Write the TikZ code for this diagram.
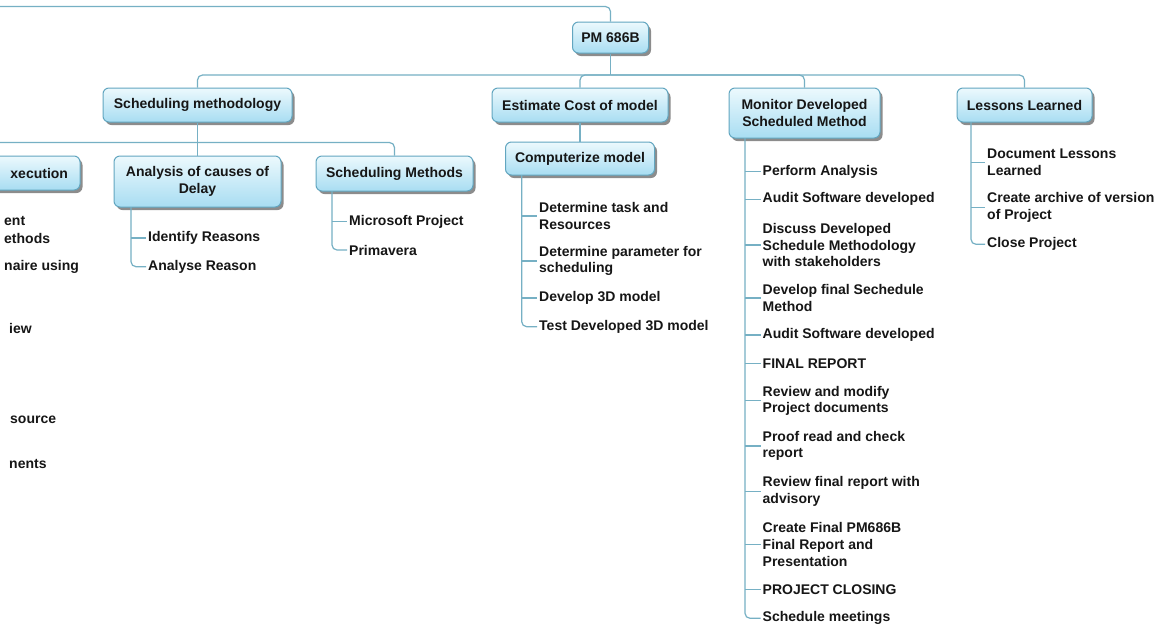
\documentclass[tikz,border=0pt]{standalone}
\usepackage{fontspec}
\setmainfont{Liberation Sans}
\usetikzlibrary{shadows}
\definecolor{boxline}{RGB}{98,166,192}
\definecolor{boxtop}{RGB}{236,249,253}
\definecolor{boxbot}{RGB}{168,221,242}
\definecolor{wire}{RGB}{118,176,196}
\definecolor{ink}{RGB}{22,22,22}
\begin{document}
\begin{tikzpicture}[x=1pt,y=-1pt,
  every node/.style={font=\fontsize{14}{16.6}\selectfont\bfseries, text=ink},
  box/.style={draw=boxline, line width=1pt, rounded corners=6pt,
    top color=boxtop, bottom color=boxbot, align=center, inner sep=0pt,
    drop shadow={shadow xshift=2.5pt, shadow yshift=-3pt, fill=black, opacity=0.45}},
  item/.style={anchor=west, align=left, inner sep=0pt},
  conn/.style={draw=wire, line width=1.2pt},
  elbow/.style={conn, rounded corners=5pt}]

\useasboundingbox (0,0) rectangle (1160,630);
\fill[white] (0,0) rectangle (1160,630);
\clip (0,0) rectangle (1160,630);

% ---------- boxes ----------
\node[box, minimum width=76pt, minimum height=31pt] (pm) at (610.5,37.5) {PM 686B};

\node[box, minimum width=189pt, minimum height=34pt] (sm)  at (197.5,105) {Scheduling methodology};
\node[box, minimum width=176pt, minimum height=34pt] (est) at (580,105) {Estimate Cost of model};
\node[box, minimum width=151pt, minimum height=50pt] (mon) at (804.5,113) {Monitor Developed\\Scheduled Method};
\node[box, minimum width=135pt, minimum height=34pt] (les) at (1024.5,105) {Lessons Learned};

\node[box, minimum width=180pt, minimum height=34pt, text width=156pt, align=right] (exe) at (-10,173) {xecution};
\node[box, minimum width=167pt, minimum height=51pt] (ana) at (197.5,181.5) {Analysis of causes of\\Delay};
\node[box, minimum width=157pt, minimum height=35pt] (smt) at (394.5,173.5) {Scheduling Methods};
\node[box, minimum width=149pt, minimum height=33pt] (comp) at (580,158.5) {Computerize model};

% ---------- connectors between boxes ----------
\coordinate (top) at (0,6.5);
\draw[elbow] (top) -| (pm.north);

\coordinate (bus1) at (610.5,75);
\draw[conn] (pm.south) -- (bus1);
\foreach \c in {sm,est,mon,les} \draw[elbow] (bus1) -| (\c.north);

\coordinate (bus2) at (197.5,142.5);
\draw[conn] (sm.south) -- (bus2);
\foreach \c in {exe,ana,smt} \draw[elbow] (bus2) -| (\c.north);

\draw[conn] (est.south) -- (comp.north);

% ---------- leaf lists ----------
% Analysis of causes of Delay
\node[item] (a1) at (148,238) {Identify Reasons};
\node[item] (a2) at (148,266.7) {Analyse Reason};
\coordinate (arail) at (131,207);
\draw[elbow] (arail) |- ([xshift=-2pt]a2.west);
\draw[conn] (arail |- a1.west) -- ([xshift=-2pt]a1.west);

% Scheduling Methods
\node[item] (s1) at (349,221.7) {Microsoft Project};
\node[item] (s2) at (349,250) {Primavera};
\coordinate (srail) at (332,191);
\draw[elbow] (srail) |- ([xshift=-2pt]s2.west);
\draw[conn] (srail |- s1.west) -- ([xshift=-2pt]s1.west);

% Computerize model
\node[item] (c1) at (539,216) {Determine task and\\Resources};
\node[item] (c2) at (539,261) {Determine parameter for\\scheduling};
\node[item] (c3) at (539,298) {Develop 3D model};
\node[item] (c4) at (539,326.7) {Test Developed 3D model};
\coordinate (crail) at (521.7,175);
\draw[elbow] (crail) |- ([xshift=-2pt]c4.west);
\foreach \i in {c1,c2,c3} \draw[conn] (crail |- \i.west) -- ([xshift=-2pt]\i.west);

% Monitor Developed Scheduled Method
\node[item] (m1)  at (762.5,171.5) {Perform Analysis};
\node[item] (m2)  at (762.5,199.3) {Audit Software developed};
\node[item] (m3)  at (762.5,245)   {Discuss Developed\\Schedule Methodology\\with stakeholders};
\node[item] (m4)  at (762.5,298)   {Develop final Sechedule\\Method};
\node[item] (m5)  at (762.5,335)   {Audit Software developed};
\node[item] (m6)  at (762.5,363.3) {FINAL REPORT};
\node[item] (m7)  at (762.5,400.8) {Review and modify\\Project documents};
\node[item] (m8)  at (762.5,446)   {Proof read and check\\report};
\node[item] (m9)  at (762.5,491.5) {Review final report with\\advisory};
\node[item] (m10) at (762.5,544.5) {Create Final PM686B\\Final Report and\\Presentation};
\node[item] (m11) at (762.5,589.3) {PROJECT CLOSING};
\node[item] (m12) at (762.5,618.3) {Schedule meetings};
\coordinate (mrail) at (745,138);
\draw[elbow] (mrail) |- ([xshift=-2pt]m12.west);
\foreach \i in {m1,m2,m3,m4,m5,m6,m7,m8,m9,m10,m11}
  \draw[conn] (mrail |- \i.west) -- ([xshift=-2pt]\i.west);

% Lessons Learned
\node[item] (l1) at (987,162.5) {Document Lessons\\Learned};
\node[item] (l2) at (987,207.5) {Create archive of version\\of Project};
\node[item] (l3) at (987,244.3) {Close Project};
\coordinate (lrail) at (971,122);
\draw[elbow] (lrail) |- ([xshift=-2pt]l3.west);
\foreach \i in {l1,l2} \draw[conn] (lrail |- \i.west) -- ([xshift=-2pt]\i.west);

% list entries running off the left edge
\node[item] (x1) at (4,220.7) {ent};
\node[item] (x2) at (4,238)   {ethods};
\node[item] (x3) at (4,266.7) {naire using};
\node[item] (x4) at (9,328)   {iew};
\node[item] (x5) at (10,420)  {source};
\node[item] (x6) at (9,464)   {nents};
\end{tikzpicture}
\end{document}
